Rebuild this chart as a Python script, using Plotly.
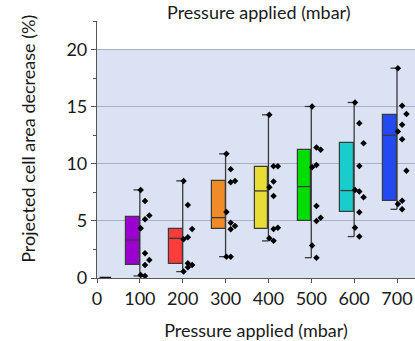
import plotly.graph_objects as go

# ---- data ----
pressures = [0, 100, 200, 300, 400, 500, 600, 700]
box_colors = ["#9B00D0", "#9B00D0", "#FF3B3B", "#F08C28", "#E8DC36", "#00DD00", "#19CDCD", "#2349F0"]
q1 = [0, 1.14, 1.23, 4.27, 4.30, 5.00, 5.76, 6.78]
median = [0, 3.33, 3.48, 5.29, 7.63, 8.01, 7.66, 12.50]
q3 = [0, 5.38, 4.30, 8.51, 9.77, 11.23, 11.81, 14.30]
whisk_lo = [0, 0.18, 0.56, 1.87, 3.25, 1.78, 3.63, 6.02]
whisk_hi = [0, 7.72, 8.51, 10.88, 14.30, 15.03, 15.38, 18.39]

pts_0 = [0, 0, 0, 0, 0]
pts_100 = [7.72, 6.75, 5.47, 5.15, 4.36, 2.16, 1.58, 1.14, 0.26, 0.18]
pts_200 = [8.51, 6.40, 4.30, 3.57, 3.39, 1.29, 1.14, 0.94, 0.56]
pts_300 = [10.88, 9.53, 8.51, 8.40, 5.79, 4.85, 4.56, 4.27, 1.87, 1.87]
pts_400 = [14.30, 9.80, 9.80, 8.45, 7.95, 7.19, 4.40, 4.30, 3.48, 3.27]
pts_500 = [15.03, 11.43, 11.23, 9.91, 9.71, 6.32, 5.29, 5.00, 2.84, 1.78]
pts_600 = [15.38, 13.57, 11.81, 9.82, 7.72, 7.57, 7.08, 5.76, 4.41, 3.63]
pts_700 = [18.39, 15.09, 14.36, 13.42, 12.84, 12.16, 9.39, 6.78, 6.49, 6.02]
points = [pts_0, pts_100, pts_200, pts_300, pts_400, pts_500, pts_600, pts_700]

x_tick_vals = [0, 100, 200, 300, 400, 500, 600, 700]
y_tick_vals = [0, 5, 10, 15, 20]

# ---- styling / geometry (in axis units) ----
BOX_W = 32      # box width, box sits left of the whisker
CAP_W = 15      # whisker cap width (to the left)
JIT = 10        # point jitter step
FONT = "Lato"
LINE = "#3a3a3a"
TXT = "#1a1a1a"

fig = go.Figure()

for i, p in enumerate(pressures):
    if q3[i] - q1[i] <= 0:
        continue
    fig.add_trace(go.Bar(
        x=[p - BOX_W / 2], y=[q3[i] - q1[i]], base=[q1[i]], width=[BOX_W],
        marker=dict(color=box_colors[i], line=dict(color=LINE, width=1.2)),
        showlegend=False, hoverinfo="skip"))

for i, p in enumerate(pressures):
    if i == 0:
        fig.add_trace(go.Scatter(x=[p + 6, p + 33], y=[0, 0], mode="lines",
                                 line=dict(color="#111", width=2.5),
                                 showlegend=False, hoverinfo="skip"))
        continue
    fig.add_trace(go.Scatter(
        x=[p, p, None, p - CAP_W, p, None, p - CAP_W, p, None, p - BOX_W, p],
        y=[whisk_lo[i], whisk_hi[i], None, whisk_hi[i], whisk_hi[i], None,
           whisk_lo[i], whisk_lo[i], None, median[i], median[i]],
        mode="lines", line=dict(color=LINE, width=1.3),
        showlegend=False, hoverinfo="skip"))

pattern = [0, 1, 2, 1]
for i, p in enumerate(pressures):
    if i == 0:
        continue
    vals = points[i]
    xs = [p + 2 + pattern[k % 4] * JIT for k in range(len(vals))]
    fig.add_trace(go.Scatter(x=xs, y=vals, mode="markers",
                             marker=dict(symbol="diamond", size=5, color="#000"),
                             showlegend=False, hoverinfo="skip"))

fig.add_shape(type="rect", xref="paper", yref="y", x0=0, x1=1, y0=0, y1=20,
              fillcolor="#DAE2F3", line=dict(width=0), layer="below")

# top axis title (from the cropped upper panel)
fig.add_annotation(text="Pressure applied (mbar)", xref="paper", yref="paper",
                   x=0.51, y=1.035, showarrow=False, yanchor="middle",
                   font=dict(family=FONT, size=18, color=TXT))

# y-axis title
fig.add_annotation(text="Projected cell area decrease (%)", xref="paper", yref="paper",
                   x=-0.215, y=0.54, showarrow=False, textangle=-90,
                   xanchor="center", yanchor="middle",
                   font=dict(family=FONT, size=18, color=TXT))

fig.update_layout(
    width=415, height=341,
    margin=dict(l=97, r=0, t=21, b=63),
    paper_bgcolor="white", plot_bgcolor="rgba(0,0,0,0)",
    barmode="overlay", bargap=0,
    font=dict(family=FONT, size=18, color=TXT),
    xaxis=dict(range=[0, 742], tickvals=x_tick_vals, ticks="outside", ticklen=4,
               tickcolor="#555", showline=True, linecolor="#555", linewidth=1.2,
               showgrid=False, zeroline=False,
               tickfont=dict(size=18),
               title=dict(text="Pressure applied (mbar)", font=dict(size=18), standoff=18)),
    yaxis=dict(range=[0, 22.52], tickvals=y_tick_vals, ticks="outside", ticklen=5,
               tickcolor="#555", showline=True, linecolor="#555", linewidth=1.2,
               showgrid=True, gridcolor="#A9B0BE", gridwidth=1, zeroline=False,
               minor=dict(dtick=2.5, ticks="outside", ticklen=3, tickcolor="#555", showgrid=False),
               tickfont=dict(size=18)),
)

fig.write_html("out.html")
